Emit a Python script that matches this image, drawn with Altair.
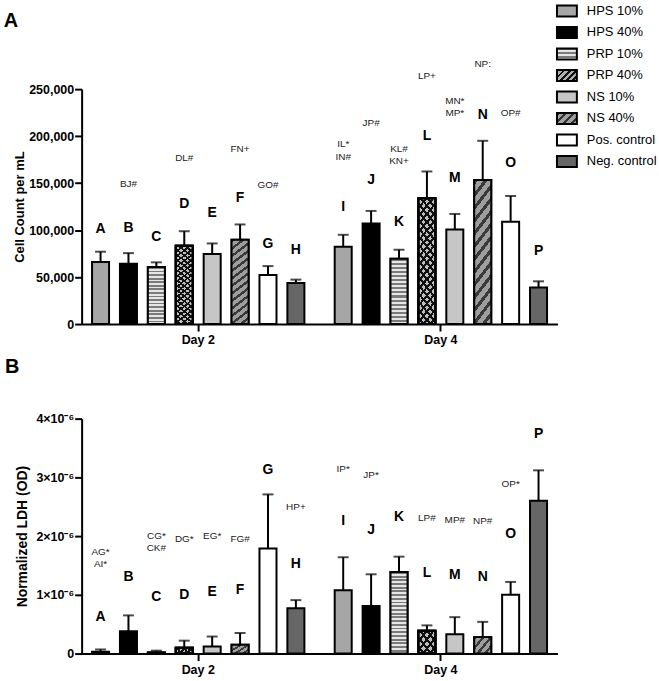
import altair as alt
import pandas as pd

FONT = "Liberation Sans"

groups = ["HPS 10%", "HPS 40%", "PRP 10%", "PRP 40%", "NS 10%", "NS 40%",
          "Pos. control", "Neg. control"]
days = ["Day 2", "Day 4"]
bar_letters = list("ABCDEFGHIJKLMNOP")

# Panel A: cell count per mL (mean, SD) and letter label heights
cell_mean = [66000, 64300, 60700, 83300, 74500, 89700, 52200, 43800,
             82300, 107000, 69600, 133800, 100600, 153200, 109000, 38900]
cell_sd = [11000, 11200, 5000, 15500, 11300, 16300, 9500, 3500,
           12700, 13400, 9500, 28600, 16600, 41800, 27300, 6600]
cell_letter_y = [101000, 102000, 92500, 128000, 118000, 134000, 84700, 79000,
                 125000, 153000, 109000, 200000, 155000, 222000, 171000, 78000]
cell_ann_bar = ["B", "D", "F", "G", "I", "I", "J", "K", "K", "L", "M", "M", "N", "O"]
cell_ann_text = ["BJ#", "DL#", "FN+", "GO#", "IL*", "IN#", "JP#", "KL#", "KN+",
                 "LP+", "MN*", "MP*", "NP:", "OP#"]
cell_ann_y = [149000, 177000, 186700, 148000, 191400, 178200, 213600, 186000,
              173000, 263700, 237000, 224800, 276700, 224800]

# Panel B: normalized LDH (OD)
ldh_mean = [0.03e-6, 0.38e-6, 0.02e-6, 0.10e-6, 0.12e-6, 0.15e-6, 1.79e-6, 0.77e-6,
            1.08e-6, 0.81e-6, 1.39e-6, 0.39e-6, 0.33e-6, 0.28e-6, 1.00e-6, 2.60e-6]
ldh_sd = [0.04e-6, 0.27e-6, 0.03e-6, 0.12e-6, 0.17e-6, 0.20e-6, 0.92e-6, 0.14e-6,
          0.56e-6, 0.54e-6, 0.26e-6, 0.09e-6, 0.29e-6, 0.26e-6, 0.22e-6, 0.52e-6]
ldh_letter_y = [0.63e-6, 1.31e-6, 0.97e-6, 1.00e-6, 1.04e-6, 1.09e-6, 3.12e-6, 1.52e-6,
                2.25e-6, 2.11e-6, 2.32e-6, 1.38e-6, 1.33e-6, 1.30e-6, 2.04e-6, 3.74e-6]
ldh_ann_bar = ["A", "A", "C", "C", "D", "E", "F", "H", "I", "J", "L", "M", "N", "O"]
ldh_ann_text = ["AG*", "AI*", "CG*", "CK#", "DG*", "EG*", "FG#", "HP+", "IP*", "JP*",
                "LP#", "MP#", "NP#", "OP*"]
ldh_ann_y = [1.73e-6, 1.53e-6, 2.01e-6, 1.79e-6, 1.95e-6, 2.01e-6, 1.95e-6, 2.49e-6,
             3.14e-6, 3.04e-6, 2.30e-6, 2.27e-6, 2.25e-6, 2.89e-6]


def bars_df(mean, sd, ly):
    rows = []
    for i, L in enumerate(bar_letters):
        rows.append(dict(letter=L, day=days[i // 8], group=groups[i % 8],
                         mean=mean[i], upper=mean[i] + sd[i], ly=ly[i]))
    return pd.DataFrame(rows)


def ann_df(bars, texts, ys):
    idx = {L: i for i, L in enumerate(bar_letters)}
    return pd.DataFrame([dict(day=days[idx[b] // 8], group=groups[idx[b] % 8], text=t, y=y)
                         for b, t, y in zip(bars, texts, ys)])


# ---------- fill patterns (gradients) ----------
def stripes(c1, c2, n, vec, frac=0.5):
    x1, y1, x2, y2 = vec
    stops = []
    for i in range(n):
        a, b, c = i / n, (i + frac) / n, (i + 1) / n
        stops += [(a, c1), (b, c1), (b, c2), (c, c2)]
    return dict(gradient="linear", x1=x1, y1=y1, x2=x2, y2=y2,
                stops=[dict(offset=round(o, 4), color=col) for o, col in stops])


HORIZ = (0, 0, 0, 1)


def diag(r):
    a = (1 + r) / (1 + r * r)
    return (0, 0, round(a, 4), round(r * a, 4))


def diag2(r):
    a = (1 + r) / (1 + r * r)
    return (1, 0, round(1 - a, 4), round(r * a, 4))


def to_expr(g):
    st = ",".join("{offset:%s,color:'%s'}" % (s["offset"], s["color"]) for s in g["stops"])
    return {"expr": "{gradient:'linear',x1:%s,y1:%s,x2:%s,y2:%s,stops:[%s]}"
            % (g["x1"], g["y1"], g["x2"], g["y2"], st)}


CLEAR = "rgba(0,0,0,0)"
legend_range = [
    "#a6a6a6",
    "#000000",
    to_expr(stripes("#7a7a7a", "#e6e6e6", 3, HORIZ)),
    to_expr(stripes("#111111", "#b0b0b0", 5, diag(0.55), 0.45)),
    "#c6c6c6",
    to_expr(stripes("#333333", "#a0a0a0", 4, diag(0.55), 0.4)),
    "#ffffff",
    "#666666",
]

x_scale = alt.Scale(domain=days, paddingInner=0.08, paddingOuter=0.0205)
xo_scale = alt.Scale(domain=groups, paddingInner=0.39, paddingOuter=0.195)


def panel(df, adf, y_scale, y_axis, y_title, pat, title_txt, title_offset, title_dx):
    X = alt.X("day:N", scale=x_scale, title=None,
              axis=alt.Axis(labelAngle=0, labelFontSize=12.5, labelPadding=3))
    XO = alt.XOffset("group:N", scale=xo_scale)

    def Y(field):
        return alt.Y(field, type="quantitative", scale=y_scale, axis=y_axis, title=y_title)

    base = alt.Chart(df).mark_bar(stroke="black", strokeWidth=2).encode(
        x=X, xOffset=XO, y=Y("mean"),
        color=alt.Color("group:N", scale=alt.Scale(domain=groups, range=legend_range),
                        legend=alt.Legend(
                            orient="none", legendX=481, legendY=-85, title=None,
                            direction="vertical",
                            symbolType="M-1.818,-1L1.818,-1L1.818,1L-1.818,1Z",
                            symbolSize=121, symbolStrokeColor="black", symbolStrokeWidth=2,
                            labelFont=FONT, labelFontSize=13, labelColor="black",
                            labelOffset=13.5, rowPadding=2.6, padding=0)),
    )
    layers = [base]
    for grp, fill in pat:
        layers.append(alt.Chart(df).transform_filter(alt.datum.group == grp)
                      .mark_bar(fill=fill, stroke="black", strokeWidth=2)
                      .encode(x=X, xOffset=XO, y=Y("mean")))
    rules = alt.Chart(df).mark_rule(color="black", strokeWidth=2).encode(
        x=X, xOffset=XO, y=Y("mean"), y2="upper")
    caps = alt.Chart(df).mark_tick(color="black", thickness=2, size=11,
                                   orient="horizontal").encode(
        x=X, xOffset=XO, y=Y("upper"))
    letters = alt.Chart(df).mark_text(font=FONT, fontSize=14, fontWeight="bold",
                                      color="black", baseline="middle").encode(
        x=X, xOffset=XO, y=Y("ly"), text="letter:N")
    ann = alt.Chart(adf).mark_text(font=FONT, fontSize=10, color="#222222",
                                   baseline="middle").encode(
        x=X, xOffset=XO, y=Y("y"), text="text:N")
    layers += [rules, caps, letters, ann]
    return alt.layer(*layers).properties(
        width=478, height=236,
        title=alt.TitleParams(title_txt, anchor="start", frame="bounds", fontSize=20,
                              font=FONT, fontWeight="bold", color="black",
                              offset=title_offset, dx=title_dx))


top_pat = [
    ("PRP 10%", stripes("#7a7a7a", "#e6e6e6", 16, HORIZ)),
    ("PRP 40%", "#bdbdbd"),
    ("PRP 40%", stripes("#111111", CLEAR, 18, diag(6), 0.4)),
    ("PRP 40%", stripes("#111111", CLEAR, 18, diag2(6), 0.4)),
    ("NS 40%", stripes("#3a3a3a", "#9e9e9e", 13, diag(6.5), 0.4)),
]
bot_pat = [
    ("PRP 10%", stripes("#7a7a7a", "#e6e6e6", 22, HORIZ)),
    ("PRP 40%", "#bdbdbd"),
    ("PRP 40%", stripes("#111111", CLEAR, 5, diag(1), 0.4)),
    ("PRP 40%", stripes("#111111", CLEAR, 5, diag2(1), 0.4)),
    ("NS 40%", stripes("#3a3a3a", "#9e9e9e", 4, diag(0.8), 0.4)),
]

top = panel(
    bars_df(cell_mean, cell_sd, cell_letter_y),
    ann_df(cell_ann_bar, cell_ann_text, cell_ann_y),
    alt.Scale(domain=[0, 250000], nice=False),
    alt.Axis(values=[0, 50000, 100000, 150000, 200000, 250000],
             labelExpr="format(datum.value, ',')",
             titleFontSize=13, titlePadding=2),
    "Cell Count per mL", top_pat, "A", 28, -10)

bottom = panel(
    bars_df(ldh_mean, ldh_sd, ldh_letter_y),
    ann_df(ldh_ann_bar, ldh_ann_text, ldh_ann_y),
    alt.Scale(domain=[0, 4e-6], nice=False),
    alt.Axis(values=[0, 1e-6, 2e-6, 3e-6, 4e-6],
             labelExpr="datum.value == 0 ? '0' : round(datum.value * 1e6) + '×10⁻⁶'",
             titleFontSize=14, titlePadding=6),
    "Normalized LDH (OD)", bot_pat, "B", 36, -11)

chart = alt.vconcat(top, bottom, spacing=95, bounds="flush").properties(
    padding={"left": 3, "top": 3, "right": 2, "bottom": 2},
    background="white",
).configure_view(stroke=None).configure_axis(
    domainColor="black", domainWidth=2, tickColor="black", tickWidth=2, tickSize=7,
    labelColor="black", labelFont=FONT, labelFontSize=12.5, labelFontWeight="bold",
    labelPadding=1, titleFont=FONT, titleFontWeight="bold", titleColor="black", grid=False,
)

chart.save("out.html", embed_options={"renderer": "svg", "actions": False})
